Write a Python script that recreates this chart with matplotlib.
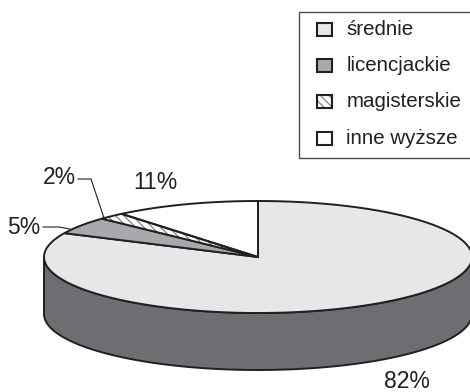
import numpy as np
import matplotlib
matplotlib.use('Agg')
import matplotlib.pyplot as plt
from matplotlib.patches import Polygon, Rectangle

plt.rcParams['font.family'] = ['Liberation Sans', 'DejaVu Sans']
plt.rcParams['hatch.linewidth'] = 0.9

categories = ['średnie', 'licencjackie', 'magisterskie', 'inne wyższe']
shares = [82, 5, 2, 11]
percent_labels = ['82%', '5%', '2%', '11%']

INK = '#231f20'
TOP_GREY = '#e6e7e8'
MID_GREY = '#a7a9ac'
SIDE_GREY = '#6d6e71'

fills = [TOP_GREY, MID_GREY, 'white', 'white']
hatches = [None, None, '\\\\\\\\', None]

# disc geometry, in pixels
cx, cy = 258, 257
rx, ry = 214, 56
depth = 57


def rim(start, stop):
    # points on the top ellipse, angles in degrees measured counter-clockwise
    t = np.radians(np.linspace(start, stop, 200))
    return np.column_stack([cx + rx * np.cos(t), cy - ry * np.sin(t)])


fig = plt.figure(figsize=(4.7, 3.92), dpi=100)
ax = fig.add_axes([0, 0, 1, 1])
ax.set_xlim(0, 470)
ax.set_ylim(392, 0)
ax.axis('off')

# side wall
front = rim(180, 360)
wall = np.vstack([front, front[::-1] + [0, depth]])
ax.add_patch(Polygon(wall, closed=True, facecolor=SIDE_GREY, edgecolor=INK, linewidth=1.4, zorder=1))

# slices go clockwise from twelve o'clock
angle = 90.0
for share, fill, hatch in zip(shares, fills, hatches):
    sweep = share / sum(shares) * 360
    pts = np.vstack([[cx, cy], rim(angle, angle - sweep)])
    if hatch:
        ax.add_patch(Polygon(pts, closed=True, facecolor=fill, edgecolor='#808285', hatch=hatch, linewidth=0, zorder=2))
        ax.add_patch(Polygon(pts, closed=True, fill=False, edgecolor=INK, linewidth=1.4, zorder=3))
    else:
        ax.add_patch(Polygon(pts, closed=True, facecolor=fill, edgecolor=INK, linewidth=1.4, zorder=2))
    angle -= sweep

# percent labels and leader lines
label_size = 16.5
ax.text(407, 381, percent_labels[0], fontsize=label_size, color=INK, ha='center', va='center')
ax.text(24, 227, percent_labels[1], fontsize=label_size, color=INK, ha='center', va='center')
ax.text(59, 177, percent_labels[2], fontsize=label_size, color=INK, ha='center', va='center')
ax.text(155, 182, percent_labels[3], fontsize=label_size, color=INK, ha='center', va='center')
ax.plot([43, 59, 70], [227, 227, 229], color=INK, lw=0.8, zorder=4)
ax.plot([78, 91, 104], [179, 179, 218], color=INK, lw=0.8, zorder=4)

# legend box runs off the right edge
ax.add_patch(Rectangle((299, 12), 180, 146, facecolor='white', edgecolor='#4d4d4f', linewidth=1.0, zorder=5))
legend_y = [29, 65, 101, 138]
for name, fill, hatch, y in zip(categories, fills, hatches, legend_y):
    ax.add_patch(Rectangle((317, y - 6.5), 14.5, 13.5, facecolor=fill, edgecolor='none', zorder=6))
    if hatch:
        ax.add_patch(Rectangle((317, y - 6.5), 14.5, 13.5, facecolor=fill, edgecolor='#808285', hatch='\\\\\\\\', linewidth=0, zorder=6))
    ax.add_patch(Rectangle((317, y - 6.5), 14.5, 13.5, fill=False, edgecolor=INK, linewidth=1.5, zorder=7))
    ax.text(346.5, y + 0.5, name, fontsize=14.8, color=INK, ha='left', va='center', zorder=7)

fig.savefig('out.png', dpi=100)
